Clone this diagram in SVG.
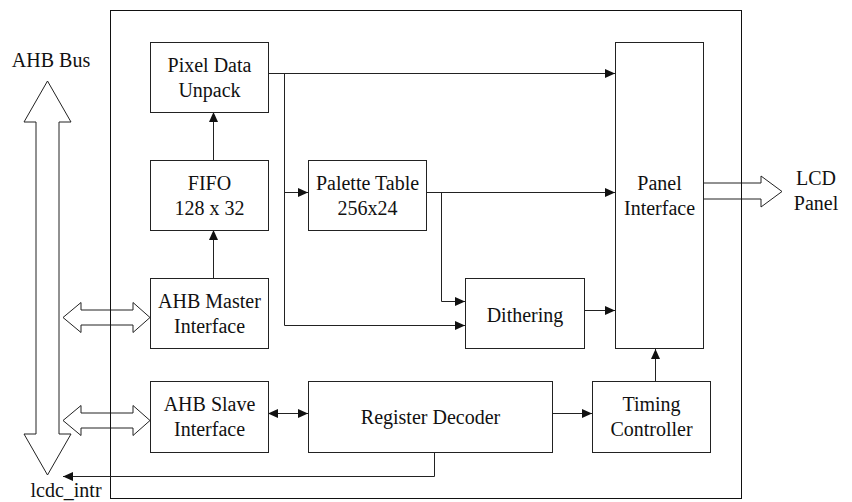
<svg xmlns="http://www.w3.org/2000/svg" width="852" height="502" viewBox="0 0 852 502">
<style>
.box{fill:#fff;stroke:#222;stroke-width:1}
.blk{fill:#fff;stroke:#222;stroke-width:1;stroke-linejoin:miter}
.ln{fill:none;stroke:#222;stroke-width:1}
.t{font-family:'Liberation Serif','DejaVu Serif',serif;font-size:20px;fill:#111;text-anchor:middle}
</style>
<defs>
<marker id="ah" markerUnits="userSpaceOnUse" markerWidth="10" markerHeight="9" refX="10" refY="4.5" orient="auto">
<path d="M0,0 L10,4.5 L0,9 z" fill="#111"/>
</marker>
<marker id="ahs" markerUnits="userSpaceOnUse" markerWidth="10" markerHeight="9" refX="0" refY="4.5" orient="auto">
<path d="M10,0 L0,4.5 L10,9 z" fill="#111"/>
</marker>
</defs>

<g id="ahb-bus">
<polygon class="blk" points="47.5,81 71,122 59,122 59,434 71,434 47.5,475 24,434 36,434 36,122 24,122"/>
<text class="t" x="51" y="67" font-family="Liberation Serif, serif">AHB Bus</text>
</g>

<g id="master-bus-arrow">
<polygon class="blk" points="63,317.5 81,302.5 81,310 133,310 133,302.5 150,317.5 133,332.5 133,325 81,325 81,332.5"/>
</g>
<g id="slave-bus-arrow">
<polygon class="blk" points="63,420.5 81,405.5 81,413 133,413 133,405.5 150,420.5 133,435.5 133,428 81,428 81,435.5"/>
</g>
<g id="lcd-arrow">
<polygon class="blk" points="703,183 761,183 761,176 782,191.5 761,207 761,199 703,199"/>
</g>

<g id="outer">
<rect x="110.5" y="10.5" width="631" height="488" fill="none" stroke="#111" stroke-width="1"/>
</g>

<g id="connectors">
<path class="ln" d="M213.5,278 V230" marker-end="url(#ah)"/>
<path class="ln" d="M213.5,160 V112" marker-end="url(#ah)"/>
<path class="ln" d="M268,73.5 H615" marker-end="url(#ah)"/>
<path class="ln" d="M284.5,73.5 V325.5 H465" marker-end="url(#ah)"/>
<path class="ln" d="M284.5,192.5 H308" marker-end="url(#ah)"/>
<path class="ln" d="M426,192.5 H615" marker-end="url(#ah)"/>
<path class="ln" d="M441.5,192.5 V301.5 H465" marker-end="url(#ah)"/>
<path class="ln" d="M584,310.5 H615" marker-end="url(#ah)"/>
<path class="ln" d="M268,413.5 H308" marker-start="url(#ahs)" marker-end="url(#ah)"/>
<path class="ln" d="M552,413.5 H592" marker-end="url(#ah)"/>
<path class="ln" d="M655.5,381 V349" marker-end="url(#ah)"/>
<path class="ln" d="M434.5,452 V476.5 H63" marker-end="url(#ah)"/>
</g>

<g id="pixel-data-unpack">
<rect class="box" x="150.5" y="42.5" width="118" height="70"/>
<text class="t" x="209.5" y="72">Pixel Data</text>
<text class="t" x="209.5" y="97">Unpack</text>
</g>
<g id="fifo">
<rect class="box" x="150.5" y="160.5" width="118" height="70"/>
<text class="t" x="209.5" y="190">FIFO</text>
<text class="t" x="209.5" y="215">128 x 32</text>
</g>
<g id="ahb-master">
<rect class="box" x="150.5" y="278.5" width="118" height="70"/>
<text class="t" x="209.5" y="308">AHB Master</text>
<text class="t" x="209.5" y="333">Interface</text>
</g>
<g id="ahb-slave">
<rect class="box" x="150.5" y="381.5" width="118" height="71"/>
<text class="t" x="209.5" y="411">AHB Slave</text>
<text class="t" x="209.5" y="436">Interface</text>
</g>
<g id="palette-table">
<rect class="box" x="308.5" y="160.5" width="118" height="70"/>
<text class="t" x="367.5" y="190">Palette Table</text>
<text class="t" x="367.5" y="215">256x24</text>
</g>
<g id="dithering">
<rect class="box" x="465.5" y="278.5" width="119" height="70"/>
<text class="t" x="525" y="322">Dithering</text>
</g>
<g id="panel-interface">
<rect class="box" x="615.5" y="42.5" width="88" height="306"/>
<text class="t" x="659.5" y="190">Panel</text>
<text class="t" x="659.5" y="215">Interface</text>
</g>
<g id="register-decoder">
<rect class="box" x="308.5" y="381.5" width="244" height="71"/>
<text class="t" x="430.5" y="424">Register Decoder</text>
</g>
<g id="timing-controller">
<rect class="box" x="592.5" y="381.5" width="118" height="71"/>
<text class="t" x="651.5" y="411">Timing</text>
<text class="t" x="651.5" y="436">Controller</text>
</g>
<g id="lcd-panel">
<text class="t" x="816" y="185">LCD</text>
<text class="t" x="816" y="210">Panel</text>
</g>
<g id="lcdc-intr">
<text class="t" x="66" y="497">lcdc_intr</text>
</g>
</svg>
